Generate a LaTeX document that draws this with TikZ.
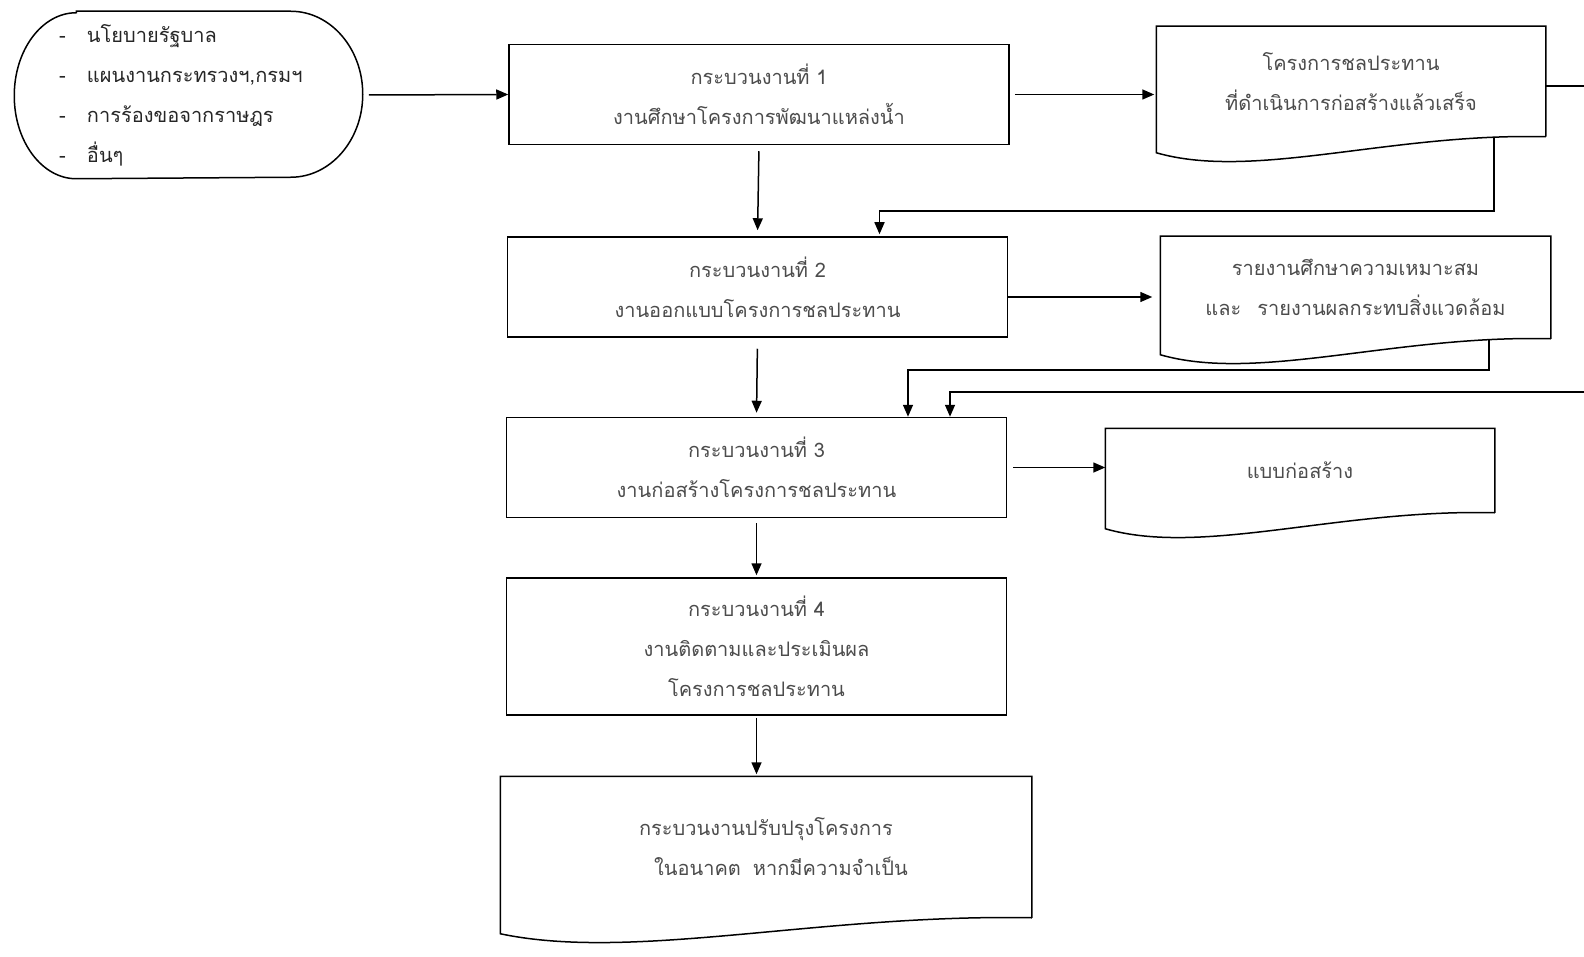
\documentclass[tikz,border=0pt]{standalone}
\usepackage{fontspec}
\newfontfamily\thaifont[Script=Thai]{Loma}
\usetikzlibrary{arrows.meta,calc}
\newcommand{\docoutline}[1]{%
  \draw (#1.south east) -- (#1.north east) -- (#1.north west) -- ([yshift=-8pt]#1.south west)
    .. controls ($(#1.south west)!0.25!(#1.south east)+(0pt,-22pt)$) and ($(#1.south west)!0.6!(#1.south east)+(0pt,2pt)$) .. (#1.south east);}

\begin{document}
\begin{tikzpicture}[x=0.5pt,y=-0.5pt,line width=0.75pt,>={Triangle[length=6pt,width=5pt]},
    every node/.style={font=\thaifont\fontsize{10}{20}\selectfont,text=black!70,align=center},
    procbox/.style={draw,minimum width=250pt,minimum height=50pt,inner sep=0pt},
    docbox/.style={minimum width=194pt,minimum height=50pt,inner sep=0pt}]
            \useasboundingbox (0,0) rectangle (1584,957);
            \clip (0,0) rectangle (1584,957);
            \node[minimum width=173.5pt,minimum height=83pt,inner xsep=22pt,text width=129.5pt,align=left,text=black!85] (src) at (188.5,95)
                {\makebox[14pt][l]{-}นโยบายรัฐบาล\\\makebox[14pt][l]{-}แผนงานกระทรวงฯ,กรมฯ\\\makebox[14pt][l]{-}การร้องขอจากราษฎร\\\makebox[14pt][l]{-}อื่นๆ};
            \draw ([xshift=31pt]src.north west) -- ([xshift=-36pt]src.north east) arc[start angle=90,end angle=-90,x radius=36pt,y radius=41.5pt]
                -- ([xshift=31pt]src.south west) arc[start angle=270,end angle=90,x radius=31pt,y radius=41.5pt] -- cycle;
            \node[procbox] (b1) at (759,94.5) {กระบวนงานที่ 1\\งานศึกษาโครงการพัฒนาแหล่งน้ำ};
            \node[procbox] (b2) at (757.5,287) {กระบวนงานที่ 2\\งานออกแบบโครงการชลประทาน};
            \node[procbox] (b3) at (756.5,467.5) {กระบวนงานที่ 3\\งานก่อสร้างโครงการชลประทาน};
            \node[procbox,minimum height=68.5pt] (b4) at (756.5,646.5) {กระบวนงานที่ 4\\งานติดตามและประเมินผล\\โครงการชลประทาน};
            \node[docbox,minimum height=54.5pt] (d1) at (1351,81.5) {โครงการชลประทาน\\ที่ดำเนินการก่อสร้างแล้วเสร็จ};
            \node[docbox,minimum width=194.5pt,minimum height=50.5pt] (d2) at (1355.5,287.5) {รายงานศึกษาความเหมาะสม\\และ\hspace{0.8em}รายงานผลกระทบสิ่งแวดล้อม};
            \node[docbox,minimum height=41.5pt] (d3) at (1300,470.5) {แบบก่อสร้าง};
            \node[docbox,minimum width=265pt,minimum height=70pt] (d4) at (766,847) {กระบวนงานปรับปรุงโครงการ\\\hspace*{1.5em}ในอนาคต\hspace{0.6em}หากมีความจำเป็น};
            \foreach \d in {d1,d2,d3,d4}{
                \docoutline{\d}
            }
            \draw[->,shorten <=3pt] (src.east) -- (b1.west);
            \draw[->,shorten <=2.5pt,shorten >=1pt] (b1.east) -- (b1.east -| d1.west);
            \draw[->,shorten <=3pt,shorten >=3pt] (b1.south) -- (b2.north);
            \draw[->,shorten >=1pt] ([xshift=-26pt]d1.south east) |- ([xshift=61pt,yshift=12.5pt]b2.north) -- ([xshift=61pt]b2.north);
            \draw[->,shorten >=4pt] ([yshift=-5pt]b2.east) coordinate (t2) -- (t2 -| d2.west);
            \draw[->,shorten <=5.5pt,shorten >=2pt] (b2.south) -- (b3.north);
            \draw[->] ([xshift=-31pt]d2.south east) |- ([xshift=75.75pt,yshift=23.5pt]b3.north) -- ([xshift=75.75pt]b3.north);
            \draw[->] ([yshift=-2.25pt]d1.east) -- ++(30pt,0) |- ([xshift=96.75pt,yshift=12.5pt]b3.north) -- ([xshift=96.75pt]b3.north);
            \draw[->,shorten <=3pt] (b3.east) -- (b3.east -| d3.west);
            \draw[->,shorten <=2.5pt,shorten >=1pt] (b3.south) -- (b4.north);
            \draw[->,shorten <=1pt,shorten >=1pt] (b4.south) -- (b4.south |- d4.north);
        \end{tikzpicture}
\end{document}
